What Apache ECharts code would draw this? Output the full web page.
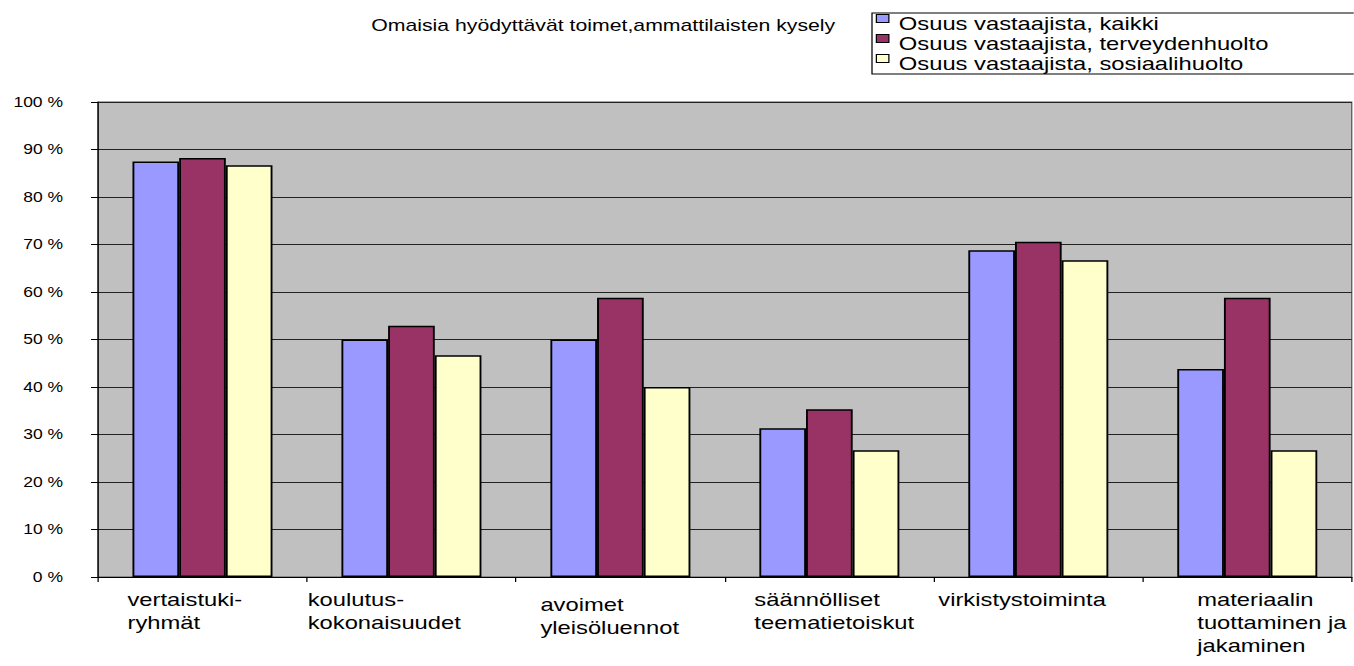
<!DOCTYPE html>
<html>
<head>
<meta charset="utf-8">
<script src="https://cdn.jsdelivr.net/npm/echarts@6/dist/echarts.min.js"></script>
<style>
  body { margin: 0; background: #fff; }
  /* the reference picture is stretched sideways, so the chart is drawn narrower and widened */
  #main { width: 1083.2px; height: 666px; transform: scaleX(1.25); transform-origin: 0 0; }
</style>
</head>
<body>
<div id="main"></div>
<script>
var categories = [
  "vertaistuki-\nryhmät",
  "koulutus-\nkokonaisuudet",
  "avoimet\nyleisöluennot",
  "säännölliset\nteematietoiskut",
  "virkistystoiminta",
  "materiaalin\ntuottaminen ja\njakaminen"
];
var seriesNames = [
  "Osuus vastaajista, kaikki",
  "Osuus vastaajista, terveydenhuolto",
  "Osuus vastaajista, sosiaalihuolto"
];
var kaikki = [87.5, 50.0, 50.0, 31.3, 68.8, 43.8];
var terveys = [88.2, 52.9, 58.8, 35.3, 70.6, 58.8];
var sosiaali = [86.7, 46.7, 40.0, 26.7, 66.7, 26.7];

// label placement: how far left of the category centre each label starts, and extra drop
var labelIndent = [60, 83, 64, 60, 80, 40];
var labelDrop = [0, 0, 10, 0, 0, 0];

var font = "Liberation Sans, Arial, sans-serif";
var rich = {};
labelIndent.forEach(function (w, i) {
  rich["c" + i] = {
    width: w, align: "left", fontSize: 19, lineHeight: 23, fontFamily: font, color: "#000",
    padding: [labelDrop[i], 0, 0, 0]
  };
});

var chartDom = document.getElementById("main");
var myChart = echarts.init(chartDom, null, { renderer: "svg" });
var option;

option = {
  animation: false,
  backgroundColor: "#fff",
  textStyle: { fontFamily: font },
  title: {
    text: "Omaisia hyödyttävät toimet,ammattilaisten kysely",
    left: 297,
    top: 17,
    padding: 0,
    textStyle: { fontSize: 17, fontWeight: "normal", color: "#000", fontFamily: font }
  },
  legend: {
    orient: "vertical",
    left: 697.6,
    top: 13,
    padding: [1, 200, 0, 3],
    backgroundColor: "#fff",
    borderColor: "#000",
    borderWidth: 1,
    itemGap: 0,
    itemWidth: 10,
    itemHeight: 19,
    icon: "path://M0,0L10,0L10,8L0,8Z M0,19",
    itemStyle: { borderColor: "#000", borderWidth: 1 },
    textStyle: { fontSize: 19, lineHeight: 19, color: "#000", fontFamily: font, padding: [0, 0, 0, 3] },
    data: seriesNames
  },
  grid: {
    left: 78.4,
    right: 1.6,
    top: 102,
    bottom: 89,
    show: true,
    backgroundColor: "#c0c0c0",
    borderColor: "#555",
    borderWidth: 1
  },
  xAxis: {
    type: "category",
    data: categories,
    axisLine: { lineStyle: { color: "#000", width: 1 } },
    axisTick: { show: true, length: 5, lineStyle: { color: "#000" } },
    axisLabel: {
      interval: 0,
      margin: 11,
      align: "right",
      verticalAlign: "top",
      rich: rich,
      formatter: function (value, idx) {
        return value.split("\n").map(function (l) {
          return "{c" + idx + "|" + l + "}";
        }).join("\n");
      }
    }
  },
  yAxis: {
    type: "value",
    min: 0,
    max: 100,
    interval: 10,
    axisLine: { show: true, lineStyle: { color: "#000", width: 1 } },
    axisTick: { show: true, length: 5.6, lineStyle: { color: "#000" } },
    axisLabel: {
      margin: 28,
      fontSize: 14,
      color: "#000",
      fontFamily: font,
      formatter: "{value} %"
    },
    splitLine: { show: true, lineStyle: { color: "#222", width: 1 } }
  },
  series: [
    {
      name: seriesNames[0],
      type: "bar",
      data: kaikki,
      barGap: "0%",
      barCategoryGap: "33%",
      itemStyle: { color: "#9999ff", borderColor: "#000", borderWidth: 1.5 }
    },
    {
      name: seriesNames[1],
      type: "bar",
      data: terveys,
      itemStyle: { color: "#993366", borderColor: "#000", borderWidth: 1.5 }
    },
    {
      name: seriesNames[2],
      type: "bar",
      data: sosiaali,
      itemStyle: { color: "#ffffcc", borderColor: "#000", borderWidth: 1.5 }
    }
  ]
};

option && myChart.setOption(option);
</script>
</body>
</html>
